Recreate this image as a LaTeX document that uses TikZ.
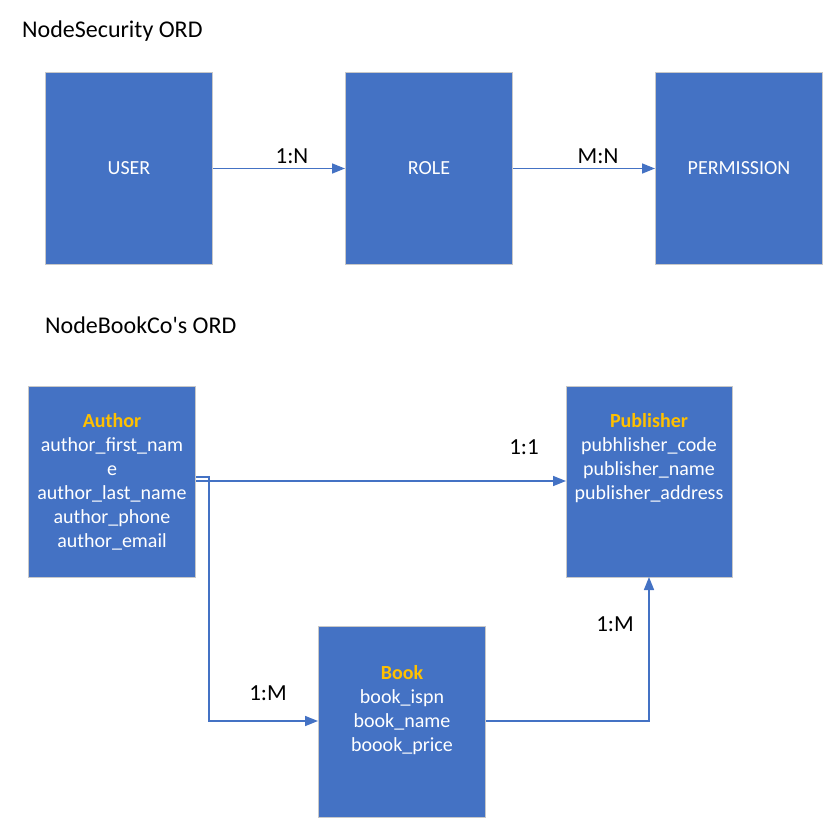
\documentclass[tikz,border=0pt]{standalone}
\usepackage{fontspec}
\setmainfont{Carlito}
\newfontfamily\plainfont{Carlito}
\usetikzlibrary{arrows.meta}
\definecolor{boxblue}{HTML}{4472C4}
\definecolor{titleyel}{HTML}{FFC000}
\definecolor{boxedge}{HTML}{C8C8C8}
\tikzset{
  entity/.style={draw=boxedge, line width=1pt, fill=boxblue, inner sep=0pt, anchor=north west},
  etext/.style={text=white, align=center, font=\fontsize{20}{24}\selectfont, inner sep=0pt},
  rel/.style={draw=boxblue, line width=1.6pt, -{Triangle[length=13pt,width=10pt]}},
  lbl/.style={font=\fontsize{23}{26}\selectfont, inner sep=0pt},
  ttl/.style={font=\plainfont\fontsize{24}{28}\selectfont, inner sep=0pt, anchor=west},
}
\newcommand{\hd}[1]{\textcolor{titleyel}{\textbf{#1}}}
\begin{document}
\begin{tikzpicture}[x=1pt,y=-1pt]
\useasboundingbox (0,0) rectangle (833,828);
% titles
\node[ttl] (t1) at (22,31) {NodeSecurity ORD};
\node[ttl] (t2) at (45,325) {NodeBookCo's ORD};
% security boxes
\node[entity, minimum width=167pt, minimum height=192pt] (user) at (45,72) {};
\node[entity, minimum width=167pt, minimum height=192pt] (role) at (345,72) {};
\node[entity, minimum width=167pt, minimum height=192pt] (perm) at (655,72) {};
\node[etext] (usert) at (user.center) {USER};
\node[etext] (rolet) at (role.center) {ROLE};
\node[etext] (permt) at (perm.center) {PERMISSION};
\draw[rel] (user.east) -- (role.west);
\draw[rel] (role.east) -- (perm.west);
\node[lbl] (l1) at (292,156) {1:N};
\node[lbl] (l2) at (598,156) {M:N};
% bookco boxes
\node[entity, minimum width=167pt, minimum height=191pt] (author) at (28,386) {};
\node[entity, minimum width=166pt, minimum height=191pt] (pub) at (566,386) {};
\node[entity, minimum width=167pt, minimum height=191pt] (book) at (318,626) {};
\node[etext] (authort) at (112,482) {\hd{Author}\\author\_first\_nam\\e\\author\_last\_name\\author\_phone\\author\_email};
\node[etext] (pubt) at (649,458) {\hd{Publisher}\\pubhlisher\_code\\publisher\_name\\publisher\_address};
\node[etext] (bookt) at (402,710) {\hd{Book}\\book\_ispn\\book\_name\\boook\_price};
% connectors
\coordinate (a1) at (author.east |- 0,481);
\coordinate (a2) at (author.east |- 0,477);
\draw[rel] (a1) -- (pub.west |- a1);
\coordinate (bk) at (book.west |- 0,721);
\draw[rel] (a2) -- (209,477) -- (209,721) -- (bk);
\coordinate (be) at (book.east |- 0,721);
\draw[rel] (be) -- (649,721) -- (649,577);
\node[lbl] (l3) at (524,447) {1:1};
\node[lbl] (l4) at (268,693) {1:M};
\node[lbl] (l5) at (615,624) {1:M};
\end{tikzpicture}
\end{document}
